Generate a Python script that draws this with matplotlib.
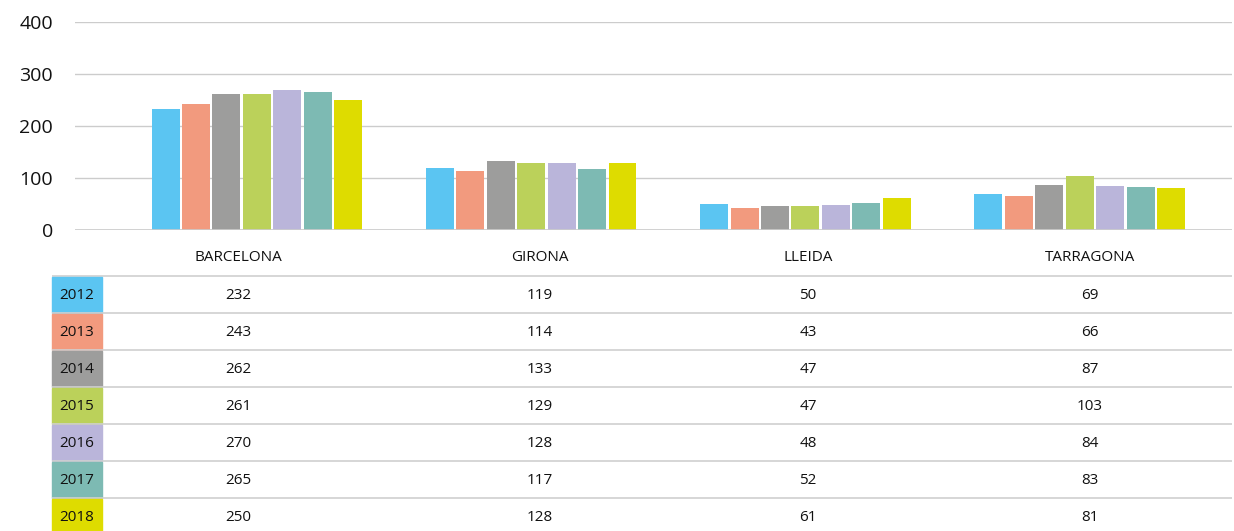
import matplotlib
matplotlib.use("Agg")
import matplotlib.pyplot as plt
import numpy as np

categories = ["BARCELONA", "GIRONA", "LLEIDA", "TARRAGONA"]
years = ["2012", "2013", "2014", "2015", "2016", "2017", "2018"]
v2012 = [232, 119, 50, 69]
v2013 = [243, 114, 43, 66]
v2014 = [262, 133, 47, 87]
v2015 = [261, 129, 47, 103]
v2016 = [270, 128, 48, 84]
v2017 = [265, 117, 52, 83]
v2018 = [250, 128, 61, 81]
series = [v2012, v2013, v2014, v2015, v2016, v2017, v2018]
colors = ["#5BC5F2", "#F29A7E", "#9D9D9C", "#BBD15A", "#BAB5DA", "#7DBAB3", "#DEDC00"]
yticks = [0, 100, 200, 300, 400]

plt.rcParams['font.family'] = ['Open Sans', 'DejaVu Sans']

W, H = 1234, 531
fig = plt.figure(figsize=(W / 100, H / 100), dpi=100)

# main bar axes
ax_l, ax_r, ax_t, ax_b = 75, 1232, 22, 230
ax = fig.add_axes([ax_l / W, 1 - ax_b / H, (ax_r - ax_l) / W, (ax_b - ax_t) / H])
x = np.arange(len(categories))
bw = 0.102
step = 0.111
for i, (vals, c) in enumerate(zip(series, colors)):
    ax.bar(x + (i - 3) * step, vals, width=bw, color=c, zorder=3)
ax.set_xlim(-0.663, 3.555)
ax.set_ylim(0, 400)
ax.set_yticks(yticks)
ax.set_yticklabels([str(t) for t in yticks], fontsize=14, color="#111111")
ax.tick_params(axis='y', length=0, pad=16)
ax.set_xticks([])
ax.grid(axis='y', color="#CCCCCC", linewidth=1.0, zorder=0)
for s in ax.spines.values():
    s.set_visible(False)
ax.axhline(0, color="#CCCCCC", linewidth=1.2, zorder=4)

# table axes in pixel coordinates
tab = fig.add_axes([0, 0, 1, 1 - ax_b / H])
tab.set_xlim(0, W)
tab.set_ylim(H, ax_b)
tab.axis('off')
col_x = [238, 540, 808, 1090]
for cx, cat in zip(col_x, categories):
    tab.text(cx, 257, cat, ha='center', va='center', fontsize=11, color="#111111")
row_top = 276
row_h = 37
for r, (yr, vals, c) in enumerate(zip(years, series, colors)):
    y0 = row_top + r * row_h
    tab.plot([52, 1232], [y0, y0], color="#D0D0D0", linewidth=1.2, solid_capstyle='butt')
    tab.add_patch(plt.Rectangle((52, y0 + 1), 50, row_h - 1, color=c, zorder=2))
    yc = y0 + row_h / 2 + 1
    tab.text(77, yc, yr, ha='center', va='center', fontsize=11, color="#111111", zorder=3)
    for cx, v in zip(col_x, vals):
        tab.text(cx, yc, str(v), ha='center', va='center', fontsize=11, color="#111111")

fig.savefig("out.png", dpi=100, facecolor="white")
